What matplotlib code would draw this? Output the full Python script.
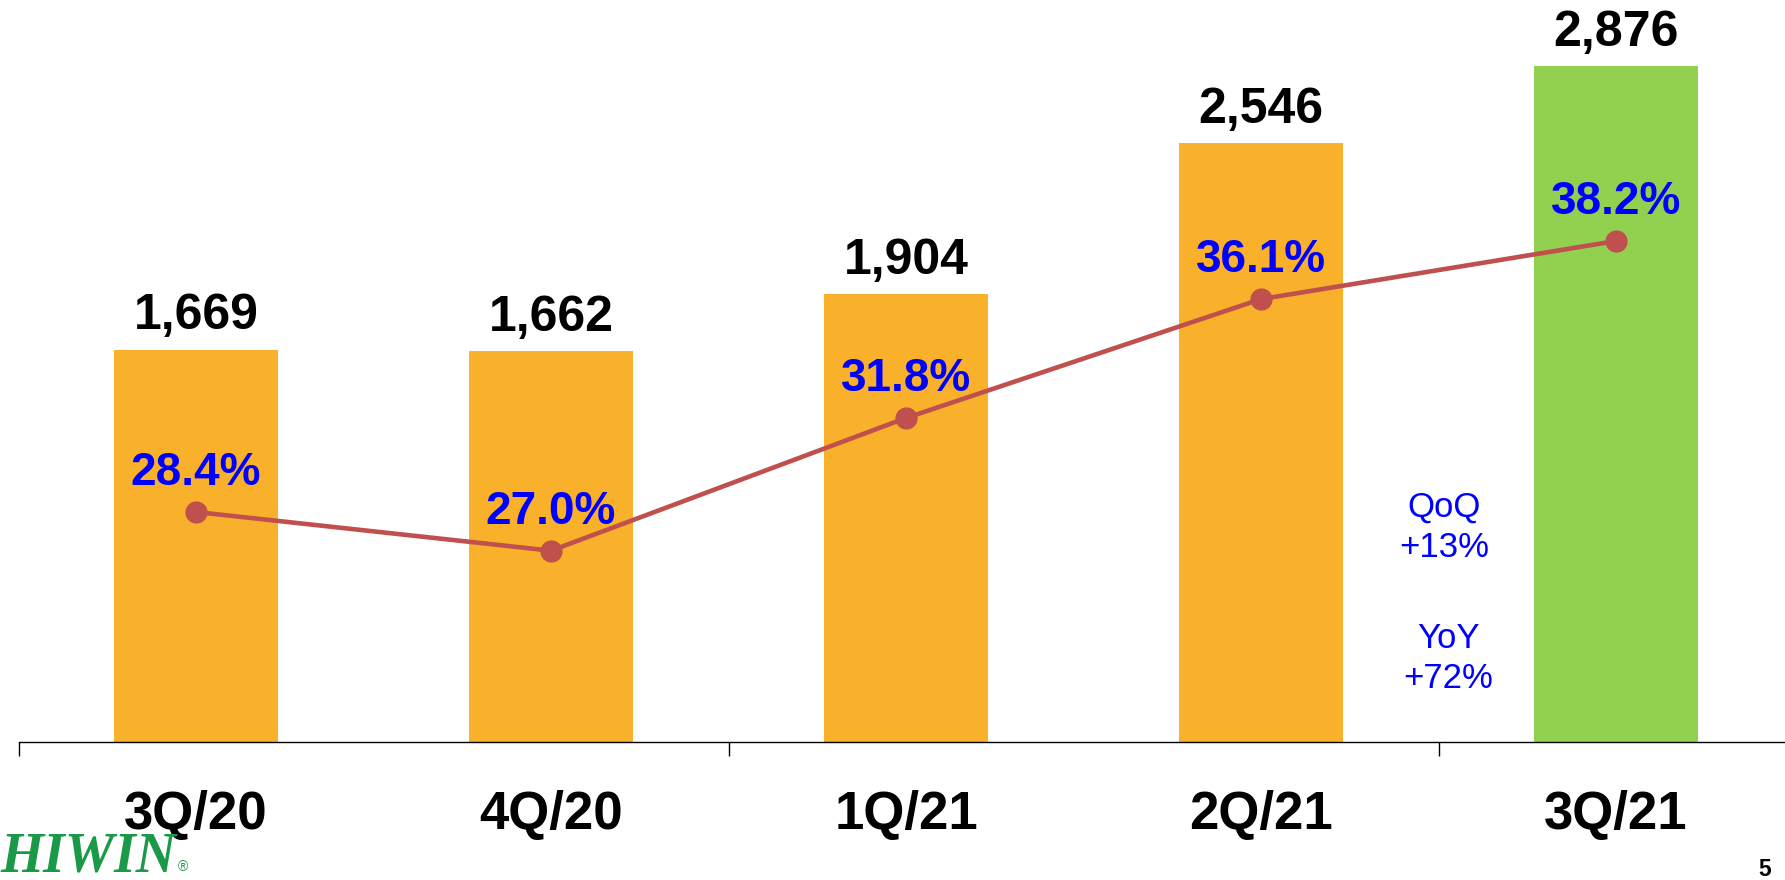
import matplotlib.pyplot as plt

# donnees du graphique
quarters = ['3Q/20', '4Q/20', '1Q/21', '2Q/21', '3Q/21']
revenue = [1669, 1662, 1904, 2546, 2876]
margin = [28.4, 27.0, 31.8, 36.1, 38.2]
bar_colors = ['#F9B12B', '#F9B12B', '#F9B12B', '#F9B12B', '#92D050']
growth_notes = [('QoQ', '+13%'), ('YoY', '+72%')]

plt.rcParams['font.family'] = ['Liberation Sans', 'DejaVu Sans']

fig = plt.figure(figsize=(17.85, 8.8), dpi=100)
ax = fig.add_axes([0, 138 / 880, 1, 742 / 880])

x = list(range(len(quarters)))
ax.bar(x, revenue, width=0.462, color=bar_colors, zorder=2)

# etiquettes au dessus des barres
for i, v in enumerate(revenue):
    ax.annotate(f'{v:,}', (i, v), xytext=(0, 14.5), textcoords='offset points',
                ha='center', va='baseline', fontsize=36, fontweight='bold', color='black')

ax.set_xlim(-0.5 - 18.5 / 355, -0.5 - 18.5 / 355 + 1785 / 355)
ax.set_ylim(0, 742 / 0.2351)

for s in ['top', 'left', 'right']:
    ax.spines[s].set_visible(False)
ax.spines['bottom'].set_bounds(-0.5, 4.5)
ax.spines['bottom'].set_linewidth(1.0)
ax.set_yticks([])
ax.set_xticks([-0.5, 1.5, 3.5])
ax.set_xticklabels([])
ax.tick_params(axis='x', which='major', length=10, width=1.0, direction='out')

# noms des trimestres sous l'axe
for i, q in enumerate(quarters):
    ax.annotate(q, (i, 0), xytext=(0, -87 * 0.72), textcoords='offset points',
                ha='center', va='baseline', fontsize=38, fontweight='bold', color='black')

# marge en pourcentage (axe secondaire)
ax2 = ax.twinx()
ax2.plot(x, margin, color='#C0504D', linewidth=3.3, marker='o', markersize=15,
         markerfacecolor='#C0504D', markeredgecolor='#C0504D', zorder=3)
ax2.set_ylim(28.4 - (742 - 512) / 27.65, 28.4 + 512 / 27.65)
ax2.set_yticks([])
for s in ['top', 'left', 'right', 'bottom']:
    ax2.spines[s].set_visible(False)

for i, m in enumerate(margin):
    ax2.annotate(f'{m:.1f}%', (i, m), xytext=(0, 19.5), textcoords='offset points',
                 ha='center', va='baseline', fontsize=33, fontweight='bold', color='#0000FF')

# QoQ / YoY
note_x = [3.516, 3.527]
note_y = [(957, 787), (400, 230)]
for (a, b), nx, (ya, yb) in zip(growth_notes, note_x, note_y):
    ax.text(nx, ya, a, ha='center', va='baseline', fontsize=25, color='#0000FF')
    ax.text(nx, yb, b, ha='center', va='baseline', fontsize=25, color='#0000FF')

# logo et numero de page
fig.text(0.0, 9 / 880, 'HIWIN', ha='left', va='baseline', fontsize=40,
         fontweight='bold', fontstyle='italic', family=['Liberation Serif', 'DejaVu Serif'],
         color='#1A9A48')
fig.text(178 / 1785, 9 / 880, '®', ha='left', va='baseline', fontsize=10, color='#1A9A48')
fig.text(1765 / 1785, 4 / 880, '5', ha='center', va='baseline', fontsize=16.5,
         fontweight='bold', color='black')

fig.savefig('out.png', dpi=100)
